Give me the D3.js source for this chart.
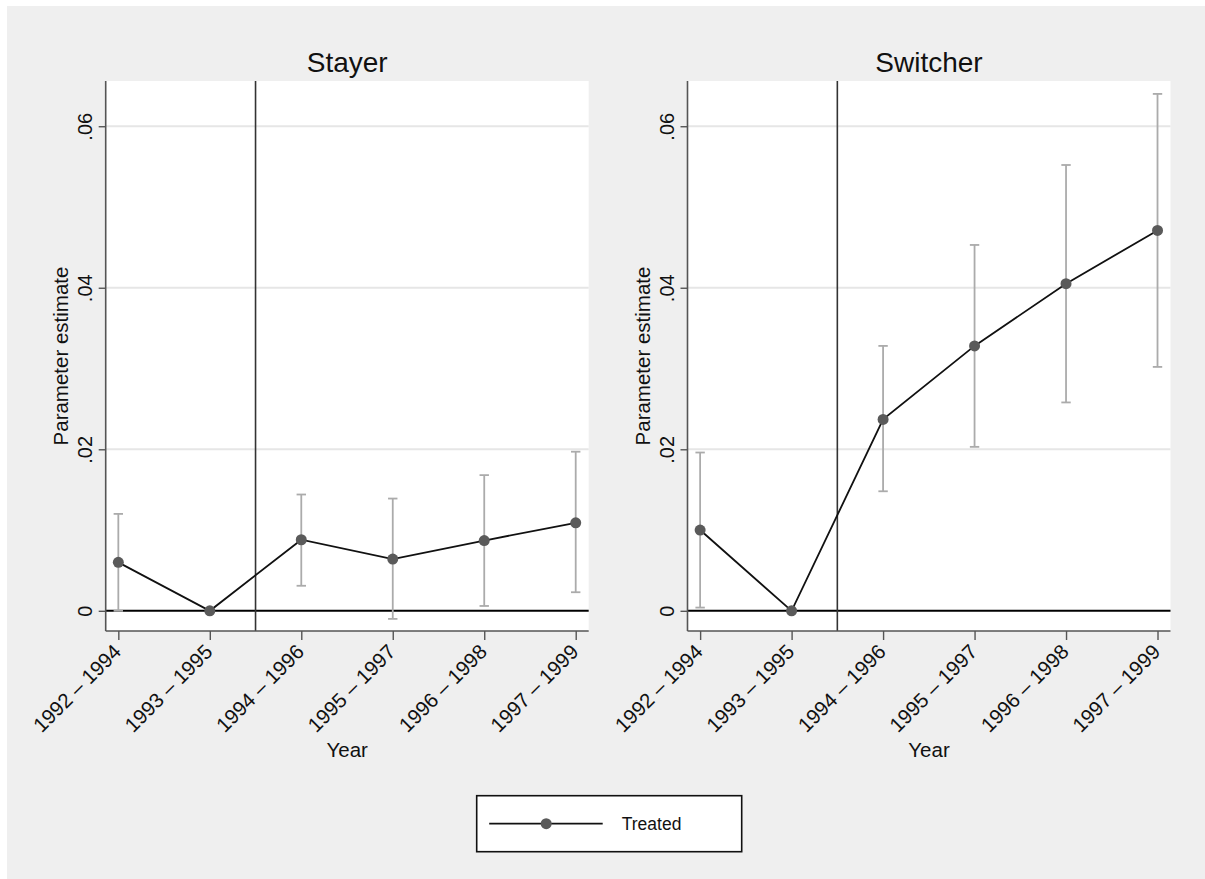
<!DOCTYPE html>
<html>
<head>
<meta charset="utf-8">
<script src="https://cdn.jsdelivr.net/npm/d3@7"></script>
<style>
  html, body { margin: 0; padding: 0; background: #fff; }
  svg { display: block; font-family: "Liberation Sans", Arial, sans-serif; }
</style>
</head>
<body>
<svg id="chart" width="1205" height="879"></svg>
<script>
// periods on the x axis
const periods = ["1992 \u2013 1994", "1993 \u2013 1995", "1994 \u2013 1996", "1995 \u2013 1997", "1996 \u2013 1998", "1997 \u2013 1999"];
const periodIdx = [1, 2, 3, 4, 5, 6];

// Stayer estimates + CI
const stayerEst = [0.0060, 0, 0.0088, 0.0064, 0.0087, 0.0109];
const stayerLo  = [0.0000, null, 0.0031, -0.0010, 0.0006, 0.0023];
const stayerHi  = [0.0120, null, 0.0144, 0.0139, 0.0168, 0.0197];

// Switcher estimates + CI
const switcherEst = [0.0100, 0, 0.0237, 0.0328, 0.0405, 0.0471];
const switcherLo  = [0.0004, null, 0.0148, 0.0203, 0.0258, 0.0302];
const switcherHi  = [0.0196, null, 0.0328, 0.0453, 0.0552, 0.0640];

const yTicks = [0, 0.02, 0.04, 0.06];
const yTickLabels = ["0", ".02", ".04", ".06"];
const gridTicks = [0.02, 0.04, 0.06];
const treatLine = 2.5; // between 1993-1995 and 1994-1996

const panels = [
  {title: "Stayer", left: 105.7, est: stayerEst, lo: stayerLo, hi: stayerHi},
  {title: "Switcher", left: 687.5, est: switcherEst, lo: switcherLo, hi: switcherHi}
];

const svg = d3.select("#chart");

// grey background
svg.append("rect")
  .attr("x", 7).attr("y", 6)
  .attr("width", 1198).attr("height", 873)
  .attr("fill", "#efefef");

const plotTop = 81, plotH = 550, plotW = 483;

const y = d3.scaleLinear().domain([-0.0025, 0.0656]).range([plotH, 0]);
const x = d3.scaleLinear().domain([0.862, 6.142]).range([0, plotW]);

panels.forEach(p => {
  const g = svg.append("g").attr("transform", `translate(${p.left},${plotTop})`);

  g.append("rect")
    .attr("width", plotW).attr("height", plotH)
    .attr("fill", "#fff");

  // gridlines
  g.selectAll(".grid")
    .data(gridTicks)
    .join("line")
    .attr("class", "grid")
    .attr("x1", 0).attr("x2", plotW)
    .attr("y1", d => y(d)).attr("y2", d => y(d))
    .attr("stroke", "#e6e6e6")
    .attr("stroke-width", 2);

  // zero line
  g.append("line")
    .attr("x1", 0).attr("x2", plotW)
    .attr("y1", y(0)).attr("y2", y(0))
    .attr("stroke", "#000")
    .attr("stroke-width", 2);

  // treatment line
  g.append("line")
    .attr("x1", x(treatLine)).attr("x2", x(treatLine))
    .attr("y1", 0).attr("y2", plotH)
    .attr("stroke", "#333")
    .attr("stroke-width", 1.6);

  // CI bars
  const ci = periodIdx.map((d, i) => ({i: d, lo: p.lo[i], hi: p.hi[i]})).filter(d => d.lo !== null);

  const bars = g.selectAll(".ci")
    .data(ci)
    .join("g")
    .attr("class", "ci")
    .attr("stroke", "#ababab")
    .attr("stroke-width", 1.8);

  bars.append("line")
    .attr("x1", d => x(d.i)).attr("x2", d => x(d.i))
    .attr("y1", d => y(d.lo)).attr("y2", d => y(d.hi));
  bars.append("line")
    .attr("x1", d => x(d.i) - 4.7).attr("x2", d => x(d.i) + 4.7)
    .attr("y1", d => y(d.hi)).attr("y2", d => y(d.hi));
  bars.append("line")
    .attr("x1", d => x(d.i) - 4.7).attr("x2", d => x(d.i) + 4.7)
    .attr("y1", d => y(d.lo)).attr("y2", d => y(d.lo));

  // estimate line
  const line = d3.line()
    .x((d, i) => x(periodIdx[i]))
    .y(d => y(d));

  g.append("path")
    .datum(p.est)
    .attr("d", line)
    .attr("fill", "none")
    .attr("stroke", "#111")
    .attr("stroke-width", 1.8);

  g.selectAll(".pt")
    .data(p.est)
    .join("circle")
    .attr("class", "pt")
    .attr("cx", (d, i) => x(periodIdx[i]))
    .attr("cy", d => y(d))
    .attr("r", 5.5)
    .attr("fill", "#5a5a5a");

  // y axis
  const yAxis = g.append("g")
    .call(d3.axisLeft(y).tickValues(yTicks).tickFormat((d, i) => yTickLabels[i]).tickSizeOuter(0).tickSize(7));
  yAxis.select(".domain").attr("stroke", "#555").attr("stroke-width", 1.6)
    .attr("d", `M0,0V${plotH}`);
  yAxis.selectAll(".tick line").attr("stroke", "#555").attr("stroke-width", 1.4);
  yAxis.selectAll(".tick text")
    .attr("font-size", 20)
    .attr("fill", "#111")
    .attr("x", null).attr("dy", null)
    .attr("text-anchor", "middle")
    .attr("transform", "translate(-14,0) rotate(-90)");

  // x axis
  const xAxis = g.append("g")
    .attr("transform", `translate(0,${plotH})`)
    .call(d3.axisBottom(x).tickValues(periodIdx).tickFormat((d, i) => periods[i]).tickSizeOuter(0).tickSize(9));
  xAxis.select(".domain").attr("stroke", "#555").attr("stroke-width", 1.6)
    .attr("d", `M0,0H${plotW}`);
  xAxis.selectAll(".tick line").attr("stroke", "#555").attr("stroke-width", 1.4);
  xAxis.selectAll(".tick text")
    .attr("font-size", 20.5)
    .attr("fill", "#111")
    .attr("y", null).attr("dy", null)
    .attr("text-anchor", "end")
    .attr("transform", "translate(3.5,22) rotate(-45)");

  // titles
  svg.append("text")
    .attr("x", p.left + plotW / 2).attr("y", 72)
    .attr("text-anchor", "middle")
    .attr("font-size", 28)
    .attr("fill", "#111")
    .text(p.title);

  svg.append("text")
    .attr("x", p.left + plotW / 2).attr("y", 757)
    .attr("text-anchor", "middle")
    .attr("font-size", 20.5)
    .attr("fill", "#111")
    .text("Year");

  svg.append("text")
    .attr("transform", `translate(${p.left - 38},${plotTop + plotH / 2}) rotate(-90)`)
    .attr("text-anchor", "middle")
    .attr("font-size", 20.5)
    .attr("fill", "#111")
    .text("Parameter estimate");
});

// legend
const lg = svg.append("g").attr("transform", "translate(476.7,795.7)");
lg.append("rect")
  .attr("width", 265).attr("height", 56)
  .attr("fill", "#fff")
  .attr("stroke", "#111")
  .attr("stroke-width", 1.6);
lg.append("line")
  .attr("x1", 12.5).attr("x2", 126)
  .attr("y1", 28).attr("y2", 28)
  .attr("stroke", "#111").attr("stroke-width", 1.8);
lg.append("circle")
  .attr("cx", 69.5).attr("cy", 28).attr("r", 5.5)
  .attr("fill", "#5a5a5a");
lg.append("text")
  .attr("x", 145).attr("y", 34.5)
  .attr("font-size", 17.5)
  .attr("fill", "#111")
  .text("Treated");
</script>
</body>
</html>
